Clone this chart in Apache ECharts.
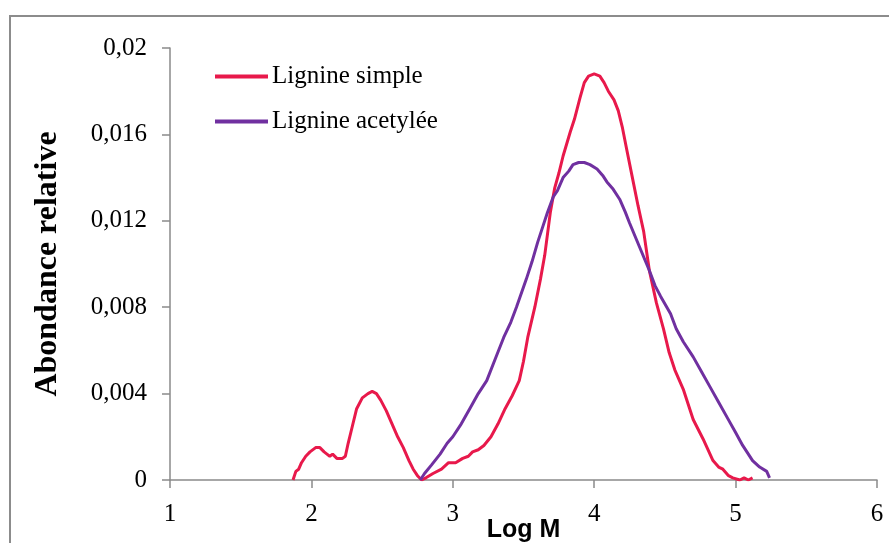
<!DOCTYPE html>
<html>
<head>
<meta charset="utf-8">
<style>
  html, body { margin: 0; padding: 0; background: #fff; }
  #chart { width: 889px; height: 543px; }
</style>
<script src="https://cdn.jsdelivr.net/npm/echarts@6/dist/echarts.min.js"></script>
</head>
<body>
<div id="chart"></div>
<script>
// Lignine simple
const simpleLogM = [1.87, 1.89, 1.91, 1.93, 1.96, 1.99, 2.03, 2.06, 2.09, 2.11, 2.13, 2.15, 2.18, 2.22, 2.24, 2.26, 2.29, 2.32, 2.36, 2.40,
  2.43, 2.46, 2.49, 2.53, 2.57, 2.61, 2.65, 2.69, 2.72, 2.75, 2.78, 2.81, 2.86, 2.92, 2.97, 3.02, 3.07, 3.11, 3.14, 3.18,
  3.22, 3.27, 3.32, 3.37, 3.42, 3.47, 3.50, 3.53, 3.58, 3.62, 3.65, 3.69, 3.72, 3.75, 3.78, 3.83, 3.86, 3.90, 3.93, 3.96,
  4.00, 4.04, 4.07, 4.10, 4.14, 4.17, 4.20, 4.23, 4.27, 4.31, 4.35, 4.39, 4.44, 4.49, 4.53, 4.57, 4.63, 4.70, 4.77, 4.84,
  4.88, 4.91, 4.95, 4.98, 5.03, 5.06, 5.09, 5.12]
const simpleAbund = [0, 0.0004, 0.0005, 0.0008, 0.0011, 0.0013, 0.0015, 0.0015, 0.0013, 0.0012, 0.0011, 0.0012, 0.0010, 0.0010, 0.0011, 0.0017, 0.0025, 0.0033, 0.0038, 0.0040,
  0.0041, 0.0040, 0.0037, 0.0032, 0.0026, 0.0020, 0.0015, 0.0009, 0.0005, 0.0002, 0, 0.0001, 0.0003, 0.0005, 0.0008, 0.0008, 0.0010, 0.0011, 0.0013, 0.0014,
  0.0016, 0.0020, 0.0026, 0.0033, 0.0039, 0.0046, 0.0055, 0.0066, 0.0080, 0.0093, 0.0104, 0.0124, 0.0135, 0.0142, 0.0150, 0.0161, 0.0167, 0.0177, 0.0184, 0.0187,
  0.0188, 0.0187, 0.0184, 0.0180, 0.0176, 0.0171, 0.0163, 0.0153, 0.0140, 0.0127, 0.0115, 0.0097, 0.0082, 0.0070, 0.0059, 0.0051, 0.0042, 0.0028, 0.0019, 0.0009,
  0.0006, 0.0005, 0.0002, 0.0001, 0, 0.0001, 0, 0.0001]

// Lignine acetylée
const acetLogM = [2.77, 2.80, 2.85, 2.91, 2.96, 3.00, 3.06, 3.12, 3.18, 3.24, 3.30, 3.36, 3.41, 3.45, 3.52, 3.56, 3.60, 3.64, 3.67, 3.71,
  3.74, 3.78, 3.82, 3.85, 3.89, 3.93, 3.97, 4.02, 4.06, 4.09, 4.13, 4.18, 4.22, 4.25, 4.32, 4.39, 4.43, 4.47, 4.54, 4.58,
  4.63, 4.70, 4.76, 4.82, 4.88, 4.94, 5.00, 5.05, 5.12, 5.17, 5.22, 5.24]
const acetAbund = [0, 0.0003, 0.0007, 0.0012, 0.0017, 0.0020, 0.0026, 0.0033, 0.0040, 0.0046, 0.0056, 0.0066, 0.0073, 0.0080, 0.0093, 0.0101, 0.0110, 0.0118, 0.0124, 0.0131,
  0.0134, 0.0140, 0.0143, 0.0146, 0.0147, 0.0147, 0.0146, 0.0144, 0.0141, 0.0138, 0.0135, 0.0130, 0.0124, 0.0119, 0.0108, 0.0097, 0.0090, 0.0085, 0.0077, 0.0070,
  0.0064, 0.0057, 0.0050, 0.0043, 0.0036, 0.0029, 0.0022, 0.0016, 0.0009, 0.0006, 0.0004, 0.0001]

const seriesNames = ['Lignine simple', 'Lignine acetylée']

const pairs = (xs, ys) => xs.map((x, i) => [x, ys[i]])
const comma = v => String(Number(v.toPrecision(6))).replace('.', ',')

const chart = echarts.init(document.getElementById('chart'))
const axisColor = '#8a8a8a'
const serif = '"Liberation Serif", "DejaVu Serif", serif'

const option = {
  animation: false,
  backgroundColor: '#fff',
  graphic: [{
    type: 'rect',
    shape: { x: 10, y: 16, width: 900, height: 560 },
    style: { fill: 'none', stroke: '#8c8c8c', lineWidth: 2 },
    silent: true
  }],
  grid: { left: 170, right: 12, top: 48, bottom: 63, outerBoundsMode: 'none', containLabel: false },
  legend: {
    orient: 'vertical',
    left: 210,
    top: 59,
    itemWidth: 53,
    itemHeight: 4,
    itemGap: 20,
    icon: 'rect',
    textStyle: { fontFamily: serif, fontSize: 25, color: '#000', padding: [0, 0, 0, -1] },
    data: seriesNames
  },
  xAxis: {
    type: 'value',
    min: 1,
    max: 6,
    interval: 1,
    name: 'Log M',
    nameLocation: 'middle',
    nameGap: 38,
    nameMoveOverlap: false,
    nameTextStyle: { fontFamily: '"Liberation Sans", Arial, sans-serif', fontWeight: 'bold', fontSize: 25, color: '#000' },
    axisLine: { lineStyle: { color: axisColor, width: 1.5 } },
    axisTick: { show: true, length: 8, lineStyle: { color: axisColor, width: 1.5 } },
    axisLabel: { fontFamily: serif, fontSize: 25, color: '#000', margin: 22 },
    splitLine: { show: false }
  },
  yAxis: {
    type: 'value',
    min: 0,
    max: 0.02,
    interval: 0.004,
    name: 'Abondance relative',
    nameLocation: 'middle',
    nameGap: 106,
    nameMoveOverlap: false,
    nameTextStyle: { fontFamily: serif, fontWeight: 'bold', fontSize: 32, color: '#000' },
    axisLine: { show: true, lineStyle: { color: axisColor, width: 1.5 } },
    axisTick: { show: true, length: 8, lineStyle: { color: axisColor, width: 1.5 } },
    axisLabel: { fontFamily: serif, fontSize: 25, color: '#000', margin: 23, formatter: comma },
    splitLine: { show: false }
  },
  series: [{
    name: seriesNames[0],
    type: 'line',
    showSymbol: false,
    symbol: 'none',
    smooth: false,
    lineStyle: { color: '#E8194B', width: 3 },
    itemStyle: { color: '#E8194B' },
    data: pairs(simpleLogM, simpleAbund)
  }, {
    name: seriesNames[1],
    type: 'line',
    showSymbol: false,
    symbol: 'none',
    smooth: false,
    lineStyle: { color: '#7030A0', width: 3 },
    itemStyle: { color: '#7030A0' },
    data: pairs(acetLogM, acetAbund)
  }]
}
chart.setOption(option)
</script>
</body>
</html>
